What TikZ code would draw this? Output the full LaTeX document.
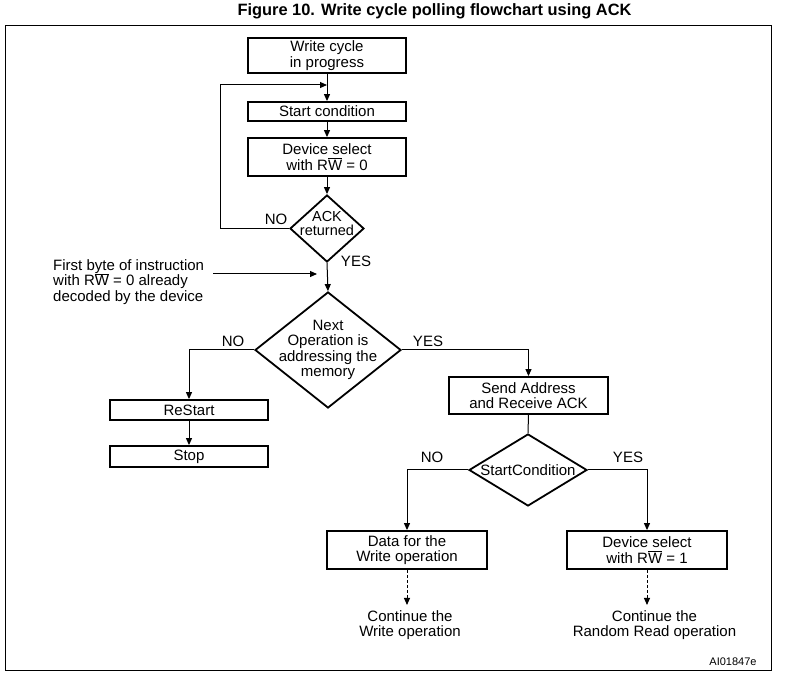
\documentclass[tikz,border=0pt]{standalone}
\usepackage{fontspec}
\setmainfont{Liberation Sans}
\usetikzlibrary{shapes.geometric,arrows.meta}
\newcommand{\rwbar}{R$\overline{\hbox{W}}$}
\begin{document}
\begin{tikzpicture}[x=1pt,y=-1pt,
  every node/.style={font=\fontsize{15}{15.5}\selectfont},
  box/.style={draw, line width=1.8pt, minimum width=158pt, inner sep=0pt, align=center},
  dia/.style={draw, diamond, line width=1.8pt, inner sep=0pt},
  lbl/.style={inner sep=0pt, align=center},
  conn/.style={line width=1pt},
  arr/.style={conn, -{Triangle[length=7pt,width=6pt]}},
  darr/.style={arr, dash pattern=on 3pt off 2pt},
]
\useasboundingbox (0,0) rectangle (788,684);
\node[font=\bfseries\fontsize{16.4}{16.4}\selectfont] (title) at (434.5,11) {Figure 10. Write cycle polling flowchart using ACK};
\node[draw, line width=1.2pt, minimum width=766pt, minimum height=645pt, inner sep=0pt, anchor=north west] (frame) at (5,25) {};

% boxes
\node[box, minimum height=35pt] (write) at (327,55.5) {Write cycle\\in progress};
\node[box, minimum height=19pt] (start) at (327,111.5) {Start condition};
\node[box, minimum height=38pt] (dev0) at (327,157) {Device select\\with \rwbar{} = 0};
\node[dia, minimum width=74pt, minimum height=67pt] (ack) at (327,228.5) {};
\node[lbl, font=\fontsize{14.5}{14}\selectfont] (ackt) at (327,224) {ACK\\returned};
\node[dia, minimum width=146pt, minimum height=116pt] (next) at (328,350) {};
\node[lbl] (nextt) at (next) {Next\\Operation is\\addressing the\\memory};
\node[box, minimum height=20pt] (restart) at (189,410) {ReStart};
\node[box, minimum height=21pt] (stop) at (189,456.5) {Stop};
\node[box, minimum width=159pt, minimum height=37pt] (send) at (528.5,395.5) {Send Address\\and Receive ACK};
\node[dia, minimum width=118pt, minimum height=72pt] (sc) at (528,470) {};
\node[lbl] (sct) at (sc) {StartCondition};
\node[box, minimum width=160pt, minimum height=38pt] (data) at (407,550) {Data for the\\Write operation};
\node[box, minimum width=160pt, minimum height=38pt] (dev1) at (647,550) {Device select\\with \rwbar{} = 1};
\node[lbl] (contw) at (410,625) {Continue the\\Write operation};
\node[lbl] (contr) at (654.5,625) {Continue the\\Random Read operation};
\node[lbl, align=left, anchor=west] (note) at (53,282) {First byte of instruction\\with \rwbar{} = 0 already\\decoded by the device};
\node[lbl, font=\fontsize{11}{11}\selectfont] (ref) at (733,662) {AI01847e};

% labels
\node[lbl] (ackno) at (276,219) {NO};
\node[lbl] (ackyes) at (356,261) {YES};
\node[lbl] (nextno) at (233,341) {NO};
\node[lbl] (nextyes) at (428,341) {YES};
\node[lbl] (scno) at (432,457) {NO};
\node[lbl] (scyes) at (628,457) {YES};

% coordinates
\coordinate (join) at (327,85);
\coordinate (loopc) at (220,85);
\coordinate (notes) at (213,274);
\coordinate (notee) at (317,274);
\coordinate (cw) at (407,605);
\coordinate (cr) at (647,605);

% connectors
\draw[arr] (write.south) -- (start.north);
\draw[arr] (ack.west) -| (loopc) -- (join);
\draw[arr] (start.south) -- (dev0.north);
\draw[arr] (dev0.south) -- (ack.north);
\draw[arr] (ack.south) -- (next.north);
\draw[arr] (notes) -- (notee);
\draw[arr] (next.west) -| (restart.north);
\draw[arr] (restart.south) -- (stop.north);
\draw[arr] (next.east) -| (send.north);
\draw[conn] (send.south) -- (sc.north);
\draw[arr] (sc.west) -| (data.north);
\draw[arr] (sc.east) -| (dev1.north);
\draw[darr] (data.south) -- (cw);
\draw[darr] (dev1.south) -- (cr);
\end{tikzpicture}
\end{document}
